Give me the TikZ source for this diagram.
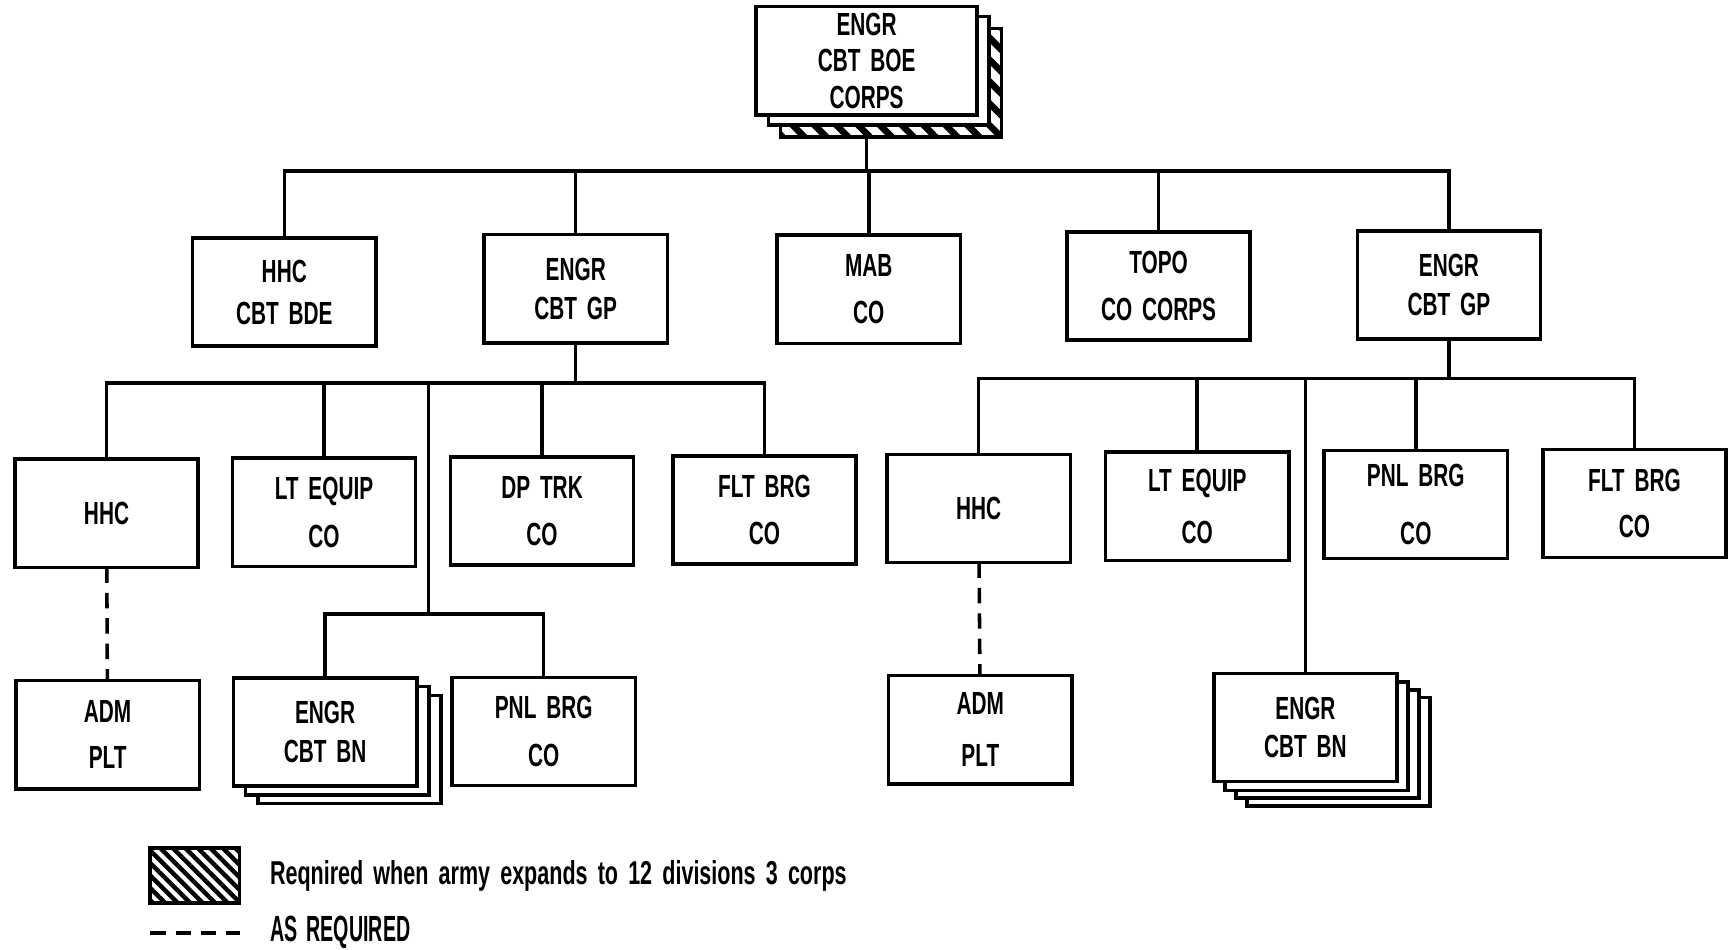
\documentclass[tikz,border=0pt]{standalone}
\usepackage{fontspec}
\setmainfont{Liberation Sans}[FakeStretch=0.65, WordSpace=1.7]
\newfontfamily\narrowfont{Liberation Sans}[FakeStretch=0.54, WordSpace=1.7]
\usetikzlibrary{backgrounds,patterns.meta}

\begin{document}
\begin{tikzpicture}[x=1pt, y=-1pt, line width=3.2pt,
		unit/.style={draw, fill=white, align=center, inner sep=0pt, outer sep=0pt,
			minimum width=166pt, minimum height=98pt,
			font=\fontsize{29}{35}\selectfont\bfseries},
		behind/.style={draw, fill=white},
		hatch/.style={draw, preaction={fill=white},
			pattern={Lines[angle=-45, distance=14pt, line width=6pt]}},
		asreq/.style={dash pattern=on 14pt off 9pt}]
		\useasboundingbox (0,0) rectangle (1568,860.5);
		% brigade
		\node [unit, minimum width=200pt] (corps) at (785,55) {ENGR\\[-2pt]CBT BOE\\[-2pt]CORPS};
		% first level
		\node [unit] (bde) at (257.5,264.5) {HHC\\[3pt]CBT BDE};
		\node [unit] (gp1) at (521.5,261.5) {ENGR\\CBT GP};
		\node [unit] (mab) at (787,262) {MAB\\[7pt]CO};
		\node [unit] (topo) at (1049.5,259) {TOPO\\[8pt]CO CORPS};
		\node [unit] (gp2) at (1312.5,258) {ENGR\\CBT GP};
		% left group
		\node [unit] (hhc1) at (96.5,465) {HHC};
		\node [unit] (lte1) at (293.5,464) {LT EQUIP\\[8pt]CO};
		\node [unit] (dpt) at (491,463) {DP TRK\\[8pt]CO};
		\node [unit] (flt1) at (692.5,462) {FLT BRG\\[7pt]CO};
		\node [unit] (adm1) at (97.5,665.5) {ADM\\[7pt]PLT};
		\node [unit] (bn1) at (294.5,663) {ENGR\\CBT BN};
		\node [unit] (pnl1) at (492.5,662.5) {PNL BRG\\[9pt]CO};
		% right group
		\node [unit] (hhc2) at (886.5,460.5) {HHC};
		\node [unit] (lte2) at (1084.5,458.5) {LT EQUIP\\[12pt]CO};
		\node [unit] (pnl2) at (1282.5,457) {PNL BRG\\[17pt]CO};
		\node [unit] (flt2) at (1480.5,456) {FLT BRG\\[7pt]CO};
		\node [unit] (adm2) at (888,661) {ADM\\[12pt]PLT};
		\node [unit] (bn2) at (1182.5,659) {ENGR\\CBT BN};
		% legend
		\node [draw, minimum width=81pt, minimum height=50pt, inner sep=0pt, preaction={fill=white},
			pattern={Lines[angle=-45, distance=8pt, line width=4pt]}] (key) at (176.5,793) {};
		\node [anchor=west, inner sep=0pt, font=\fontsize{30}{35}\selectfont\bfseries] (keytext) at (243,793)
			{Reqnired when army expands to 12 divisions 3 corps};
		\node [anchor=west, inner sep=0pt, font=\fontsize{33}{35}\selectfont\narrowfont\bfseries] (keydash) at (243,845)
			{AS REQUIRED};
		\coordinate (k1) at (136,845);
		\coordinate (k2) at (217,845);
		\draw [asreq] (k1) -- (k2);

		\begin{scope}[on background layer]
		\begin{scope}[line width=3.2pt]
			% brigade to first level
			\coordinate (j0) at (785,155);
			\draw [-] (corps) -- (j0);
			\draw [-] (bde) |- (j0);
			\draw [-] (gp2) |- (j0);
			\draw [-] (gp1) -- (gp1 |- j0);
			\draw [-] (mab) -- (mab |- j0);
			\draw [-] (topo) -- (topo |- j0);
			% left group
			\coordinate (j1) at (521.5,347);
			\draw [-] (gp1) -- (j1);
			\draw [-] (hhc1) |- (j1);
			\draw [-] (flt1) |- (j1);
			\draw [-] (lte1) -- (lte1 |- j1);
			\draw [-] (dpt) -- (dpt |- j1);
			\coordinate (j2) at (388,347);
			\coordinate (j3) at (388,556);
			\draw [-] (j2) -- (j3);
			\draw [-] (bn1) |- (j3);
			\draw [-] (pnl1) |- (j3);
			\draw [asreq] (hhc1) -- (adm1);
			% right group
			\coordinate (j4) at (1312.5,343);
			\draw [-] (gp2) -- (j4);
			\draw [-] (hhc2) |- (j4);
			\draw [-] (flt2) |- (j4);
			\draw [-] (lte2) -- (lte2 |- j4);
			\draw [-] (pnl2) -- (pnl2 |- j4);
			\draw [-] (bn2) -- (bn2 |- j4);
			\draw [asreq] (hhc2) -- (adm2);
			% stacked boxes
			\draw [hatch] ([shift={(22,20)}]corps.south west) rectangle ([shift={(22,20)}]corps.north east);
			\draw [behind] ([shift={(11,9)}]corps.south west) rectangle ([shift={(11,9)}]corps.north east);
			\draw [behind] ([shift={(22,16)}]bn1.south west) rectangle ([shift={(22,16)}]bn1.north east);
			\draw [behind] ([shift={(11,8)}]bn1.south west) rectangle ([shift={(11,8)}]bn1.north east);
			\draw [behind] ([shift={(30,22)}]bn2.south west) rectangle ([shift={(30,22)}]bn2.north east);
			\draw [behind] ([shift={(20,15)}]bn2.south west) rectangle ([shift={(20,15)}]bn2.north east);
			\draw [behind] ([shift={(10,8)}]bn2.south west) rectangle ([shift={(10,8)}]bn2.north east);
		\end{scope}
		\end{scope}
	\end{tikzpicture}
\end{document}
